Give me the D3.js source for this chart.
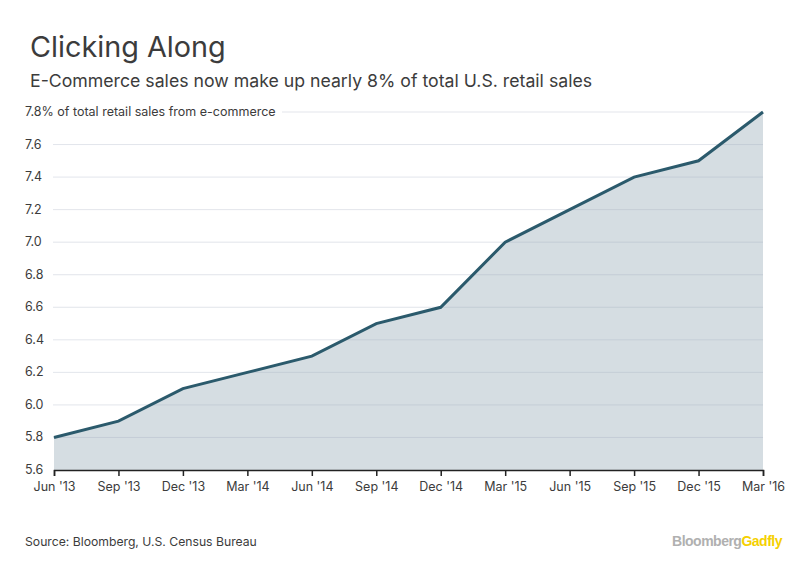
<!DOCTYPE html>
<html><head><meta charset="utf-8">
<script src="https://cdn.jsdelivr.net/npm/d3@7"></script>
<style>body{margin:0;background:#fff;} svg{display:block;}</style>
</head><body><svg id="c" width="812" height="578"></svg>
<script>
const categories = ["Jun '13","Sep '13","Dec '13","Mar '14","Jun '14","Sep '14","Dec '14","Mar '15","Jun '15","Sep '15","Dec '15","Mar '16"];
const values = [5.8, 5.9, 6.1, 6.2, 6.3, 6.5, 6.6, 7.0, 7.2, 7.4, 7.5, 7.8];
const yTicks = [5.6, 5.8, 6.0, 6.2, 6.4, 6.6, 6.8, 7.0, 7.2, 7.4, 7.6, 7.8];
const title = "Clicking Along";
const subtitle = "E-Commerce sales now make up nearly 8% of total U.S. retail sales";
const source = "Source: Bloomberg, U.S. Census Bureau";

const font = "Inter, 'Noto Sans', sans-serif";
const svg = d3.select("#c");
const L = 54, R = 763, T = 112, B = 470;
const x = d3.scalePoint().domain(categories).range([L, R]);
const y = d3.scaleLinear().domain([5.6, 7.8]).range([B, T]);

svg.append("text").attr("x", 30).attr("y", 57).text(title)
  .attr("font-family", font).attr("font-size", 28.8).attr("fill", "#3c3c3c");
svg.append("text").attr("x", 30).attr("y", 87).text(subtitle)
  .attr("font-family", font).attr("font-size", 17.7).attr("fill", "#3c3c3c");

const data = categories.map((c, i) => ({c, v: values[i]}));
svg.append("path").datum(data)
  .attr("d", d3.area().x(d => x(d.c)).y0(B).y1(d => y(d.v)))
  .attr("fill", "#d5dde2");

// gridlines
yTicks.forEach(t => {
  if (t === 5.6) return;
  const x0 = t === 7.8 ? 282 : 53;
  svg.append("line").attr("x1", x0).attr("x2", R).attr("y1", y(t)).attr("y2", y(t))
    .attr("stroke", "rgba(160,170,190,0.3)").attr("stroke-width", 1);
});

// y labels
yTicks.forEach(t => {
  svg.append("text").attr("x", 25).attr("y", y(t) + 4)
    .text(t === 7.8 ? "7.8% of total retail sales from e-commerce" : t.toFixed(1))
    .attr("font-family", font).attr("font-size", 12.5).attr("fill", "#3c3c3c");
});

svg.append("path").datum(data)
  .attr("d", d3.line().x(d => x(d.c)).y(d => y(d.v)))
  .attr("fill", "none").attr("stroke", "#2b5a6c").attr("stroke-width", 3)
  .attr("stroke-linejoin", "miter");

const ax = svg.append("g").attr("transform", `translate(0,${B})`)
  .call(d3.axisBottom(x).tickSize(6).tickPadding(6));
ax.select(".domain").attr("stroke", "#222").attr("stroke-width", 1.5);
ax.selectAll(".tick line").attr("stroke", "#222").attr("stroke-width", 1.5);
ax.selectAll(".tick text").attr("font-family", font).attr("font-size", 12.5).attr("fill", "#3c3c3c");

svg.append("text").attr("x", 25).attr("y", 546).text(source)
  .attr("font-family", font).attr("font-size", 12.2).attr("fill", "#3c3c3c");
const logo = svg.append("text").attr("x", 782).attr("y", 546).attr("text-anchor", "end")
  .attr("font-family", "Arial, 'Liberation Sans', sans-serif").attr("font-size", 14).attr("font-weight", "bold")
  .attr("letter-spacing", -0.5);
logo.append("tspan").text("Bloomberg").attr("fill", "#b0b0b0");
logo.append("tspan").text("Gadfly").attr("fill", "#f5d000");
</script></body></html>
